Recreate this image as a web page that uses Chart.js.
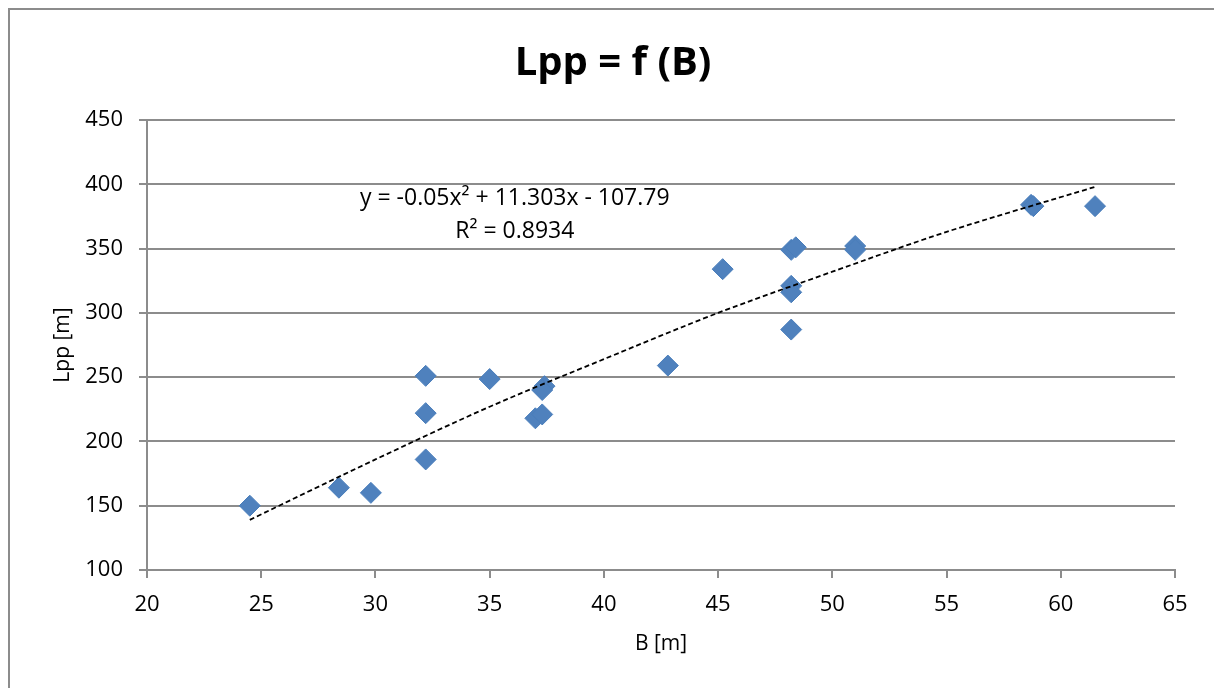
<!DOCTYPE html>
<html>
<head>
<meta charset="utf-8">
<script src="https://cdn.jsdelivr.net/npm/chart.js@4.4.0/dist/chart.umd.min.js"></script>
<style>
  html, body { margin: 0; padding: 0; background: #fff; overflow: hidden; }
  #wrap { position: relative; width: 1214px; height: 688px; }
  #frame { position: absolute; left: 8px; top: 8px; width: 1300px; height: 800px;
           border: 2px solid #8c8c8c; box-sizing: border-box; }
  canvas { position: absolute; left: 0; top: 0; }
</style>
</head>
<body>
<div id="wrap">
  <div id="frame"></div>
  <canvas id="chart" width="1214" height="688"></canvas>
</div>
<script>
// B [m] vs Lpp [m]
const breadth = [24.5, 28.4, 29.8, 32.2, 32.2, 32.2, 35.0, 37.0, 37.3, 37.4, 37.3,
                 42.8, 45.2, 48.2, 48.4, 48.2, 48.2, 48.2, 51.0, 51.0, 58.7, 58.8, 61.5];
const lpp     = [150, 164, 160, 251, 222, 186, 248.5, 218, 221, 243, 240,
                 259, 334, 349, 351, 321, 316, 287, 352, 349, 384, 383, 383];

// polynomial trendline as drawn (dashed)
const trendB   = [24.5, 30, 35, 40, 45, 50, 55, 61.5];
const trendLpp = [139, 186, 227, 264, 300, 332, 363, 398];

const eqLines = ['y = -0.05x\u00B2 + 11.303x - 107.79', 'R\u00B2 = 0.8934'];

const xTicks = [20, 25, 30, 35, 40, 45, 50, 55, 60, 65];
const yTicks = [100, 150, 200, 250, 300, 350, 400, 450];

const FONT = "'Open Sans', 'Liberation Sans', sans-serif";

const points = breadth.map((b, i) => ({ x: b, y: lpp[i] }));
const trend = trendB.map((b, i) => ({ x: b, y: trendLpp[i] }));

const overlay = {
  id: 'overlay',
  afterDraw(chart) {
    const ctx = chart.ctx;
    const xs = chart.scales.x, ys = chart.scales.y;
    ctx.save();
    ctx.fillStyle = '#000';
    ctx.textAlign = 'center';
    ctx.textBaseline = 'middle';
    // title
    ctx.font = 'bold 40px ' + FONT;
    ctx.fillText('Lpp = f (B)', 613, 64);
    // trendline equation
    ctx.font = '23px ' + FONT;
    const ex = xs.getPixelForValue(36.1);
    const ey = ys.getPixelForValue(389);
    ctx.fillText(eqLines[0], ex, ey);
    ctx.fillText(eqLines[1], ex, ey + 33);
    ctx.restore();
  }
};

new Chart(document.getElementById('chart').getContext('2d'), {
  type: 'scatter',
  data: {
    datasets: [
      {
        label: 'Lpp',
        data: points,
        pointStyle: 'rectRot',
        pointRadius: 10.5,
        backgroundColor: '#4F81BD',
        borderColor: '#4A7EBB',
        borderWidth: 1,
        order: 2
      },
      {
        label: 'Trend',
        data: trend,
        showLine: true,
        pointRadius: 0,
        borderColor: '#000',
        borderWidth: 1.8,
        borderDash: [5, 3],
        tension: 0.3,
        order: 1
      }
    ]
  },
  options: {
    responsive: false,
    animation: false,
    layout: { padding: { left: 46, top: 120, right: 39, bottom: 27 } },
    plugins: {
      legend: { display: false },
      tooltip: { enabled: false },
      title: { display: false }
    },
    scales: {
      x: {
        type: 'linear',
        min: 20, max: 65,
        afterBuildTicks(scale) { scale.ticks = xTicks.map(v => ({ value: v })); },
        afterFit(scale) { scale.height = 91; },
        border: { color: '#8c8c8c', width: 2 },
        grid: { drawOnChartArea: false, drawTicks: true, tickLength: 8, color: '#8c8c8c', lineWidth: 2 },
        ticks: { color: '#000', font: { family: FONT, size: 22 }, padding: 14 },
        title: { display: true, text: 'B [m]', color: '#000', font: { family: FONT, size: 21 }, padding: { top: 4, bottom: 4 } }
      },
      y: {
        min: 100, max: 450,
        afterBuildTicks(scale) { scale.ticks = yTicks.map(v => ({ value: v })); },
        afterFit(scale) { scale.width = 147 - 46; },
        border: { color: '#8c8c8c', width: 2 },
        grid: { drawTicks: true, tickLength: 8, color: '#8c8c8c', lineWidth: 2 },
        ticks: { color: '#000', font: { family: FONT, size: 22 }, padding: 16 },
        title: { display: true, text: 'Lpp [m]', color: '#000', font: { family: FONT, size: 21 }, padding: { top: 4, bottom: 4 } }
      }
    }
  },
  plugins: [overlay]
});
</script>
</body>
</html>
